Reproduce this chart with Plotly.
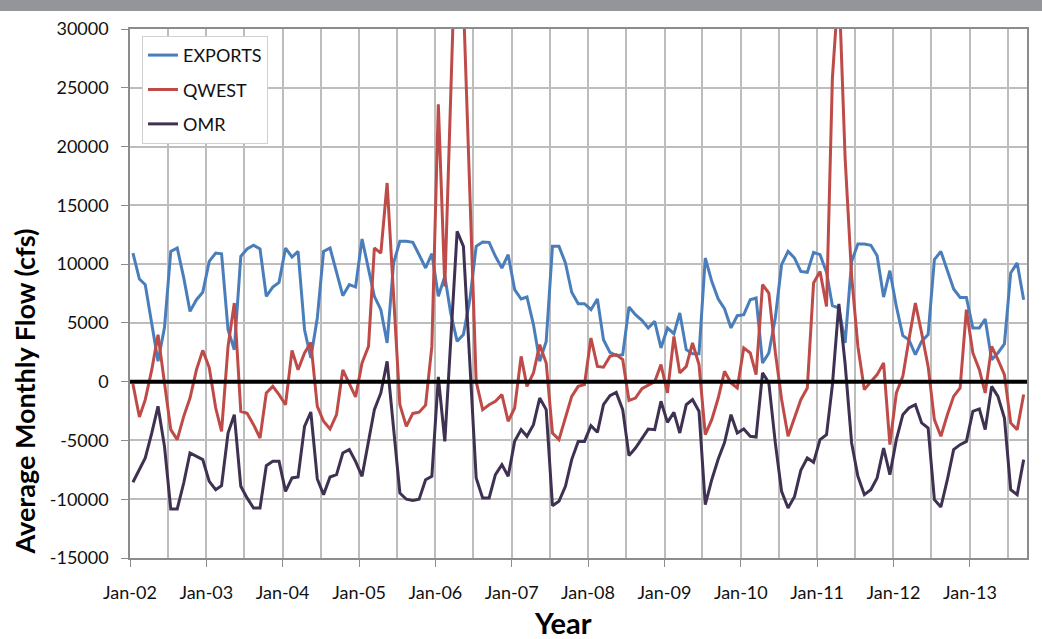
import pandas as pd
from plotly import graph_objs as go

# monthly values, Jan-2002 .. Sep-2013 (cfs), plotted mid-month
months = pd.date_range("2002-01-01", periods=141, freq="MS") + pd.Timedelta(days=14)

exports = [10940, 8730, 8250, 5000, 1730, 4600, 11080, 11370, 8850, 5980, 6970, 7600,
           10230, 10940, 10880, 4420, 2720, 10660, 11290, 11600, 11290, 7260, 8050, 8450,
           11370, 10600, 11080, 4420, 2010, 5420, 11080, 11370, 9380, 7310, 8250, 8050,
           12140, 9530, 7260, 6120, 3290, 10100, 11940, 11940, 11850, 10800, 9670, 10890,
           7260, 8960, 5840, 3430, 4000, 7000, 11510, 11880, 11850, 10660, 9670, 10800,
           7830, 7030, 7200, 4850, 1730, 3430, 11510, 11510, 10100, 7600, 6630, 6630,
           6120, 7030, 3570, 2490, 2210, 2300, 6350, 5700, 5220, 4570, 5130, 2870,
           4570, 4080, 5840, 2720, 2380, 2380, 10520, 8530, 7030, 6200, 4570, 5610,
           5700, 6970, 7120, 1590, 2440, 5420, 9950, 11080, 10520, 9380, 9300, 11000,
           10800, 9300, 6460, 6270, 3290, 10230, 11710, 11710, 11600, 10720, 7200, 9440,
           6400, 3910, 3570, 2300, 3430, 4000, 10380, 11080, 9380, 7880, 7170, 7170,
           4570, 4570, 5330, 1870, 2440, 3210, 9250, 10100, 6970]

qwest = [-200, -3000, -1530, 1000, 4000, -100, -4080, -4930, -2950, -1390, 1020, 2660,
         1200, -2240, -4230, 3000, 6690, -2520, -2690, -3660, -4790, -960, -400, -1100,
         -1960, 2660, 1020, 2440, 3340, -2100, -3370, -4030, -2810, 1000, -100, -1300,
         1590, 3000, 11370, 10940, 16900, 7000, -1960, -3800, -2700, -2600, -2000, 3000,
         23600, 8100, 26450, 42000, 32400, 16600, 0, -2380, -1960, -1670, -1100, -3370,
         -2240, 2150, -400, 740, 3150, 1590, -4370, -4930, -3090, -1250, -400, -250,
         3710, 1300, 1230, 2150, 2300, 1870, -1600, -1400, -600, -300, 0, 1450,
         -950, 3850, 740, 1300, 3290, 1450, -4510, -3230, -1390, 880, -110, -540,
         2870, 2440, 600, 8250, 7540, 2500, -1500, -4650, -3090, -1530, -540, 8390,
         9380, 6400, 25800, 34000, 19000, 9000, 3000, -680, 0, 600, 1590, -5360,
         -960, 450, 3570, 6690, 4140, 1300, -3230, -4650, -2810, -1250, -540, 6120,
         2440, 1020, -960, 3000, 1870, 600, -3510, -4080, -1100]

omr = [-8560, -7490, -6490, -4370, -2100, -5500, -10830, -10830, -8620, -6070, -6350, -6630,
       -8480, -9190, -8850, -4370, -2810, -8900, -9890, -10750, -10750, -7150, -6780, -6780,
       -9330, -8190, -8110, -3800, -2580, -8280, -9610, -8110, -7910, -6070, -5780, -6780,
       -8050, -4930, -2380, -960, 1730, -4000, -9470, -10000, -10100, -10000, -8340, -8050,
       400, -5080, 3500, 12790, 11510, 1500, -8190, -9890, -9890, -7910, -7060, -8050,
       -5080, -4080, -4650, -3660, -1390, -2380, -10550, -10180, -8900, -6630, -5080, -5080,
       -3740, -4310, -1960, -1190, -910, -2380, -6290, -5640, -4790, -4030, -4080, -1670,
       -3460, -2610, -4370, -1960, -1530, -2520, -10460, -8340, -6580, -5180, -2810, -4370,
       -4030, -4650, -4710, 750, -100, -5210, -9330, -10750, -9760, -7540, -6490, -6860,
       -4930, -4510, -300, 6610, 1500, -5210, -8050, -9610, -9190, -8190, -5640, -7910,
       -4930, -2810, -2240, -1960, -3510, -3940, -10040, -10660, -8340, -5780, -5360, -5080,
       -2520, -2320, -4080, -400, -1250, -3090, -9190, -9610, -6630]

series_names = ["EXPORTS", "QWEST", "OMR"]
series_colors = ["#4A7EBB", "#BE4B48", "#3F3151"]

y_ticks = [-15000, -10000, -5000, 0, 5000, 10000, 15000, 20000, 25000, 30000]
y_tick_text = ["-15000", "-10000", "-5000", "0", "5000", "10000", "15000", "20000", "25000", "30000"]

fig = go.Figure()

for i, (name, vals, col) in enumerate(zip(series_names, [exports, qwest, omr], series_colors)):
    fig.add_trace(go.Scatter(x=months, y=vals, name=name, mode="lines",
                             line=dict(color=col, width=3), legendgroup=str(i)))

# black zero line across the plot
fig.add_shape(type="line", xref="paper", yref="y", x0=0, x1=1, y0=0, y1=0,
              line=dict(color="black", width=4), layer="above")

# grey band at top of slide
fig.add_shape(type="rect", xref="paper", yref="paper", x0=-0.16, x1=1.03, y0=1.034, y1=1.07,
              fillcolor="#939598", line_width=0, layer="below")

font_main = "Lato, Calibri, Arial, sans-serif"

fig.update_layout(
    width=1042, height=639,
    margin=dict(l=130, r=15, t=29, b=81),
    paper_bgcolor="white", plot_bgcolor="white",
    font=dict(family=font_main, size=18, color="#111111"),
    showlegend=True,
    legend=dict(x=0.0134, y=0.987, xanchor="left", yanchor="top",
                bgcolor="white", bordercolor="#d0d0d0", borderwidth=1,
                font=dict(size=18), tracegroupgap=8, traceorder="grouped"),
    xaxis=dict(range=["2002-01-01", "2013-10-01"], tick0="2002-01-01", dtick="M12",
               tickformat="%b-%y", ticks="outside", ticklen=7, tickcolor="#8c8c8c",
               ticklabelstandoff=11,
               showgrid=True, gridcolor="#bdbdbd", gridwidth=1.5,
               minor=dict(dtick="M6", showgrid=True, gridcolor="#bdbdbd", gridwidth=1.5),
               showline=True, linecolor="#8c8c8c", linewidth=1.5, mirror=True,
               zeroline=False),
    yaxis=dict(range=[-15000, 30000], tickvals=y_ticks, ticktext=y_tick_text,
               ticks="outside", ticklen=7,
               tickcolor="#8c8c8c", showgrid=True, gridcolor="#bdbdbd", gridwidth=1.5,
               showline=True, linecolor="#8c8c8c", linewidth=1.5, mirror=True,
               zeroline=False, ticklabelstandoff=9),
)

fig.add_annotation(text="<b>Average Monthly Flow (cfs)</b>", xref="paper", yref="paper",
                   x=-0.118, y=0.315, xanchor="center", yanchor="middle", textangle=-90,
                   showarrow=False, font=dict(size=27, color="black"))
fig.add_annotation(text="<b>Year</b>", xref="paper", yref="paper",
                   x=0.483, y=-0.122, xanchor="center", yanchor="middle", showarrow=False,
                   font=dict(size=29, color="black"))

# drop the default page margin so the chart sits at the window corner
fig.write_html("out.html", config={"displayModeBar": False},
               post_script="document.body.style.margin='0';")
